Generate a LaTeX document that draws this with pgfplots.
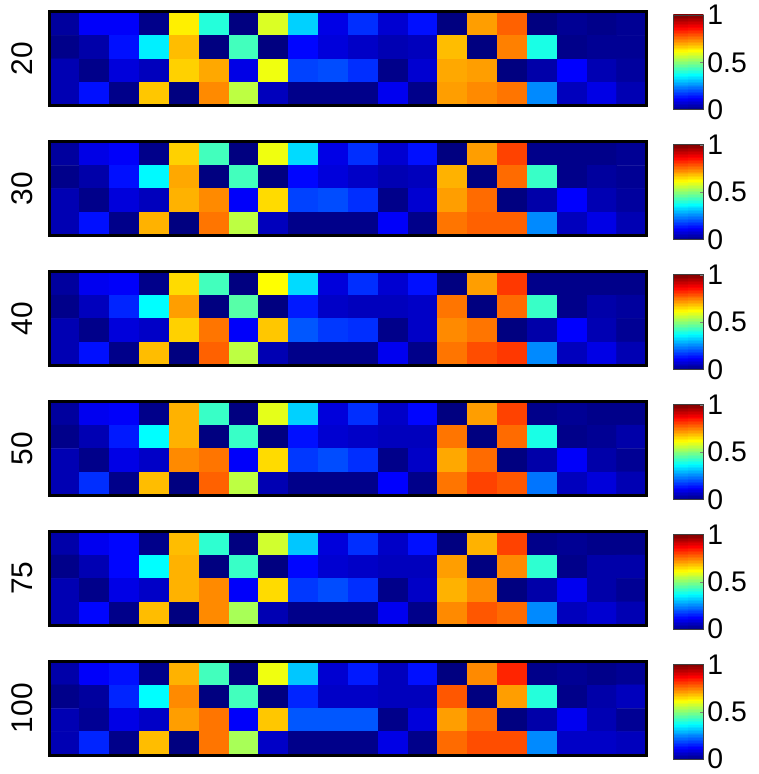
\documentclass[border=0pt]{standalone}
\usepackage{pgfplots}
\usepackage{pgfplotstable}
\pgfplotsset{compat=1.18}
\usepackage{fontspec}
\setmainfont{Liberation Sans}
\pgfplotstableread[row sep=\\]{
x y\\ 0 0\\1 0\\0 1\\1 1\\0 2\\1 2\\0 3\\1 3\\0 4\\1 4\\0 5\\1 5\\0 6\\1 6\\0 7\\1 7\\0 8\\1 8\\
0 9\\1 9\\0 10\\1 10\\0 11\\1 11\\0 12\\1 12\\0 13\\1 13\\0 14\\1 14\\0 15\\1 15\\0 16\\1 16\\
0 17\\1 17\\0 18\\1 18\\0 19\\1 19\\0 20\\1 20\\0 21\\1 21\\0 22\\1 22\\0 23\\1 23\\0 24\\1 24\\
0 25\\1 25\\0 26\\1 26\\0 27\\1 27\\0 28\\1 28\\0 29\\1 29\\0 30\\1 30\\0 31\\1 31\\0 32\\1 32\\
0 33\\1 33\\0 34\\1 34\\0 35\\1 35\\0 36\\1 36\\0 37\\1 37\\0 38\\1 38\\0 39\\1 39\\0 40\\1 40\\
0 41\\1 41\\0 42\\1 42\\0 43\\1 43\\0 44\\1 44\\0 45\\1 45\\0 46\\1 46\\0 47\\1 47\\0 48\\1 48\\
0 49\\1 49\\0 50\\1 50\\0 51\\1 51\\0 52\\1 52\\0 53\\1 53\\0 54\\1 54\\0 55\\1 55\\0 56\\1 56\\
0 57\\1 57\\0 58\\1 58\\0 59\\1 59\\0 60\\1 60\\0 61\\1 61\\0 62\\1 62\\0 63\\1 63\\0 64\\1 64\\
}\cbtab
\pgfplotsset{
  panel/.style={
    scale only axis, width=599pt, height=94pt,
    xmin=0.5, xmax=20.5, ymin=0.5, ymax=4.5, y dir=reverse,
    xtick=\empty, ytick=\empty,
    axis on top,
    axis line style={line width=3pt, line cap=rect},
    colormap/jet, point meta min=0, point meta max=1,
    ylabel style={at={(axis description cs:-0.028,0.5)}, anchor=south, inner sep=0pt, font=\fontsize{30}{30}\selectfont},
    anchor=north west,
  },
  cbar/.style={
    scale only axis, width=30pt, height=95pt,
    xmin=0, xmax=1, ymin=0, ymax=64,
    xtick=\empty, ytick={0,32,64}, yticklabels={0,0.5,1},
    ytick pos=right, yticklabel pos=right,
    tick align=inside, major tick length=3pt,
    axis on top,
    axis line style={line width=0.8pt, draw=black!75},
    colormap/jet, point meta min=0, point meta max=1,
    yticklabel style={font=\fontsize{28.5}{28.5}\selectfont, inner sep=0pt, xshift=4pt},
    anchor=north west,
  },
  cells/.style={matrix plot*, mesh/cols=20, point meta=explicit},
  grad/.style={surf, shader=flat mean, mesh/cols=2, point meta={y/64}},
}
\begin{document}
\begin{tikzpicture}
\useasboundingbox (0,-1pt) rectangle (761pt,-778pt);
% ---- 20
\begin{axis}[panel, at={(50pt,-13pt)}, ylabel={20}]
\addplot[cells] table[row sep=\\, x expr={mod(\coordindex,20)+1}, y expr={int(\coordindex/20)+1}, meta=c]{
c\\
0.03\\0.12\\0.12\\0.01\\0.64\\0.41\\0.00\\0.59\\0.33\\0.10\\0.17\\0.08\\0.14\\0.00\\0.72\\0.78\\0.00\\0.02\\0.01\\0.02\\
0.01\\0.04\\0.14\\0.36\\0.69\\0.00\\0.44\\0.00\\0.13\\0.09\\0.07\\0.05\\0.06\\0.69\\0.00\\0.75\\0.40\\0.01\\0.02\\0.02\\
0.05\\0.01\\0.09\\0.06\\0.67\\0.71\\0.10\\0.61\\0.19\\0.20\\0.17\\0.01\\0.08\\0.71\\0.72\\0.00\\0.04\\0.125\\0.05\\0.03\\
0.05\\0.14\\0.01\\0.68\\0.00\\0.74\\0.56\\0.06\\0.01\\0.01\\0.01\\0.11\\0.01\\0.72\\0.74\\0.76\\0.26\\0.06\\0.10\\0.05\\
};
\end{axis}
\begin{axis}[cbar, at={(676pt,-16pt)}]
\addplot[grad] table {\cbtab};
\end{axis}
% ---- 30
\begin{axis}[panel, at={(50pt,-143.4pt)}, ylabel={30}]
\addplot[cells] table[row sep=\\, x expr={mod(\coordindex,20)+1}, y expr={int(\coordindex/20)+1}, meta=c]{
c\\
0.03\\0.10\\0.12\\0.01\\0.67\\0.44\\0.00\\0.61\\0.34\\0.10\\0.17\\0.08\\0.14\\0.00\\0.72\\0.81\\0.01\\0.01\\0.01\\0.02\\
0.01\\0.04\\0.14\\0.37\\0.71\\0.00\\0.44\\0.00\\0.13\\0.09\\0.07\\0.05\\0.06\\0.70\\0.00\\0.77\\0.43\\0.01\\0.03\\0.02\\
0.05\\0.01\\0.09\\0.06\\0.70\\0.74\\0.12\\0.66\\0.19\\0.20\\0.17\\0.01\\0.08\\0.72\\0.77\\0.00\\0.04\\0.125\\0.05\\0.03\\
0.05\\0.14\\0.01\\0.70\\0.00\\0.76\\0.56\\0.06\\0.01\\0.01\\0.01\\0.12\\0.01\\0.76\\0.78\\0.78\\0.26\\0.06\\0.10\\0.05\\
};
\end{axis}
\begin{axis}[cbar, at={(676pt,-146.4pt)}]
\addplot[grad] table {\cbtab};
\end{axis}
% ---- 40
\begin{axis}[panel, at={(50pt,-273.8pt)}, ylabel={40}]
\addplot[cells] table[row sep=\\, x expr={mod(\coordindex,20)+1}, y expr={int(\coordindex/20)+1}, meta=c]{
c\\
0.03\\0.11\\0.12\\0.01\\0.66\\0.44\\0.00\\0.625\\0.34\\0.09\\0.17\\0.08\\0.14\\0.00\\0.72\\0.82\\0.01\\0.01\\0.01\\0.01\\
0.01\\0.06\\0.16\\0.375\\0.72\\0.00\\0.46\\0.00\\0.15\\0.07\\0.06\\0.06\\0.07\\0.76\\0.00\\0.77\\0.43\\0.01\\0.04\\0.03\\
0.05\\0.01\\0.09\\0.07\\0.67\\0.76\\0.12\\0.68\\0.21\\0.18\\0.17\\0.01\\0.07\\0.74\\0.76\\0.00\\0.04\\0.125\\0.05\\0.02\\
0.05\\0.14\\0.01\\0.69\\0.00\\0.78\\0.56\\0.05\\0.01\\0.01\\0.01\\0.11\\0.01\\0.76\\0.80\\0.82\\0.26\\0.06\\0.10\\0.05\\
};
\end{axis}
\begin{axis}[cbar, at={(676pt,-276.8pt)}]
\addplot[grad] table {\cbtab};
\end{axis}
% ---- 50
\begin{axis}[panel, at={(50pt,-404.2pt)}, ylabel={50}]
\addplot[cells] table[row sep=\\, x expr={mod(\coordindex,20)+1}, y expr={int(\coordindex/20)+1}, meta=c]{
c\\
0.03\\0.11\\0.12\\0.01\\0.70\\0.43\\0.00\\0.60\\0.33\\0.09\\0.17\\0.07\\0.13\\0.00\\0.72\\0.81\\0.01\\0.02\\0.01\\0.01\\
0.01\\0.05\\0.15\\0.375\\0.70\\0.00\\0.43\\0.00\\0.14\\0.08\\0.07\\0.06\\0.06\\0.76\\0.00\\0.77\\0.40\\0.01\\0.02\\0.04\\
0.05\\0.01\\0.10\\0.07\\0.74\\0.76\\0.12\\0.66\\0.18\\0.20\\0.17\\0.01\\0.07\\0.71\\0.77\\0.00\\0.04\\0.12\\0.04\\0.02\\
0.05\\0.17\\0.01\\0.69\\0.00\\0.78\\0.56\\0.05\\0.01\\0.01\\0.01\\0.125\\0.01\\0.76\\0.81\\0.79\\0.24\\0.06\\0.09\\0.05\\
};
\end{axis}
\begin{axis}[cbar, at={(676pt,-407.2pt)}]
\addplot[grad] table {\cbtab};
\end{axis}
% ---- 75
\begin{axis}[panel, at={(50pt,-534.6pt)}, ylabel={75}]
\addplot[cells] table[row sep=\\, x expr={mod(\coordindex,20)+1}, y expr={int(\coordindex/20)+1}, meta=c]{
c\\
0.04\\0.11\\0.13\\0.01\\0.69\\0.42\\0.00\\0.58\\0.32\\0.09\\0.17\\0.07\\0.14\\0.00\\0.70\\0.81\\0.01\\0.02\\0.01\\0.01\\
0.01\\0.05\\0.13\\0.375\\0.70\\0.00\\0.43\\0.00\\0.13\\0.08\\0.07\\0.06\\0.06\\0.72\\0.00\\0.74\\0.42\\0.01\\0.04\\0.04\\
0.05\\0.01\\0.10\\0.07\\0.70\\0.74\\0.12\\0.66\\0.18\\0.20\\0.17\\0.01\\0.07\\0.70\\0.74\\0.00\\0.04\\0.11\\0.04\\0.02\\
0.05\\0.13\\0.01\\0.69\\0.00\\0.74\\0.54\\0.05\\0.01\\0.01\\0.01\\0.11\\0.01\\0.74\\0.79\\0.77\\0.26\\0.06\\0.08\\0.05\\
};
\end{axis}
\begin{axis}[cbar, at={(676pt,-537.6pt)}]
\addplot[grad] table {\cbtab};
\end{axis}
% ---- 100
\begin{axis}[panel, at={(50pt,-665pt)}, ylabel={100}]
\addplot[cells] table[row sep=\\, x expr={mod(\coordindex,20)+1}, y expr={int(\coordindex/20)+1}, meta=c]{
c\\
0.04\\0.12\\0.14\\0.01\\0.70\\0.44\\0.00\\0.61\\0.32\\0.08\\0.15\\0.06\\0.14\\0.00\\0.74\\0.84\\0.01\\0.02\\0.01\\0.02\\
0.01\\0.03\\0.16\\0.375\\0.74\\0.00\\0.44\\0.00\\0.16\\0.07\\0.07\\0.06\\0.06\\0.79\\0.00\\0.72\\0.41\\0.01\\0.04\\0.06\\
0.05\\0.02\\0.10\\0.07\\0.72\\0.76\\0.12\\0.68\\0.21\\0.21\\0.21\\0.01\\0.09\\0.72\\0.77\\0.00\\0.04\\0.11\\0.05\\0.02\\
0.05\\0.16\\0.01\\0.69\\0.00\\0.76\\0.54\\0.07\\0.01\\0.01\\0.01\\0.10\\0.01\\0.77\\0.80\\0.80\\0.26\\0.07\\0.07\\0.06\\
};
\end{axis}
\begin{axis}[cbar, at={(676pt,-668pt)}]
\addplot[grad] table {\cbtab};
\end{axis}
\end{tikzpicture}
\end{document}
